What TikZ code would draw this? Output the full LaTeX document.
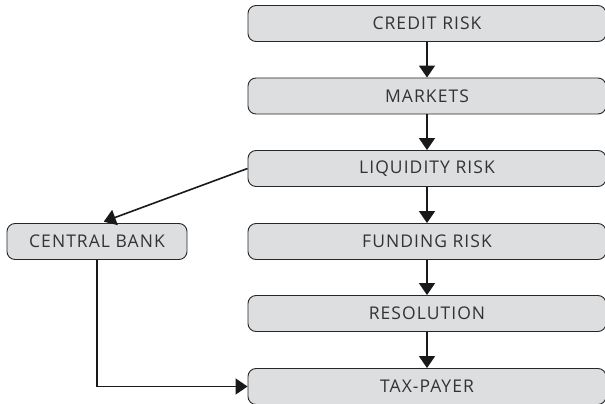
\documentclass[tikz,border=0pt]{standalone}
\usepackage{fontspec}
\setmainfont{Open Sans}[LetterSpace=6]
\usetikzlibrary{arrows.meta}
\definecolor{boxgray}{RGB}{221,222,224}
\definecolor{linegray}{RGB}{40,40,40}
\begin{document}
\begin{tikzpicture}[x=1pt,y=-1pt,
	stage/.style={draw=linegray,line width=0.9pt,fill=boxgray,rounded corners=8pt,
		minimum width=358pt,minimum height=36pt,inner sep=0pt,
		font=\fontsize{17.5}{20}\selectfont,text=black!80},
	arr/.style={line width=1.6pt,draw=black!90,-{Triangle[width=16pt,length=12pt]}}]
	\useasboundingbox (0,0) rectangle (605,404);
	\node [stage] (credit) at (427,23.5) {CREDIT RISK};
	\node [stage] (markets) at (427,96) {MARKETS};
	\node [stage] (liquidity) at (427,168.5) {LIQUIDITY RISK};
	\node [stage] (funding) at (427,241.5) {FUNDING RISK};
	\node [stage] (resolution) at (427,313.5) {RESOLUTION};
	\node [stage] (taxpayer) at (427,386.5) {TAX-PAYER};
	\node [stage,minimum width=180pt] (bank) at (97,241.5) {CENTRAL BANK};
	\draw [arr] (credit) -- (markets);
	\draw [arr] (markets) -- (liquidity);
	\draw [arr] (liquidity) -- (funding);
	\draw [arr] (funding) -- (resolution);
	\draw [arr] (resolution) -- (taxpayer);
	\draw [arr,shorten >=4pt] (liquidity.west) -- ([xshift=3pt]bank.north);
	\draw [arr] (bank.south) |- (taxpayer.west);
\end{tikzpicture}
\end{document}
